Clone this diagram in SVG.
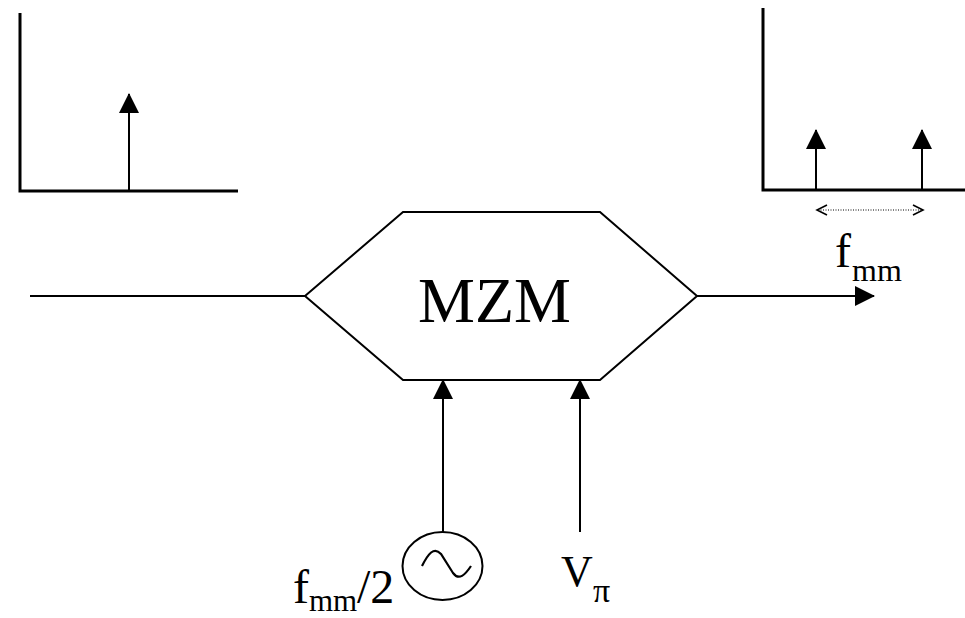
<svg xmlns="http://www.w3.org/2000/svg" width="965" height="618" viewBox="0 0 965 618">
  <style>
    .txt { font-family: "Liberation Serif", "Times New Roman", serif; fill: #000; }
    .axis { stroke: #000; stroke-width: 3; fill: none; }
    .ln { stroke: #000; stroke-width: 2; fill: none; }
    .thin { stroke: #000; stroke-width: 1.6; fill: none; }
  </style>
  <defs>
    <marker id="ah" markerUnits="userSpaceOnUse" viewBox="0 0 20 20" refX="19" refY="10" markerWidth="20" markerHeight="20" orient="auto">
      <path d="M0,0 L20,10 L0,20 Z" fill="#000"/>
    </marker>
  </defs>
  <rect width="965" height="618" fill="#fff"/>

  <g id="input-spectrum">
    <polyline class="axis" points="20,13 20,191 238,191"/>
    <line class="ln" x1="129" y1="191" x2="129" y2="94" marker-end="url(#ah)"/>
  </g>

  <g id="output-spectrum">
    <polyline class="axis" points="763,8 763,190 965,190"/>
    <line class="ln" x1="816" y1="190" x2="816" y2="130" marker-end="url(#ah)"/>
    <line class="ln" x1="922" y1="190" x2="922" y2="130" marker-end="url(#ah)"/>
    <line x1="818" y1="210" x2="922" y2="210" stroke="#000" stroke-width="1" stroke-dasharray="1 1.5"/>
    <polyline class="thin" points="827,205 817,210 827,215"/>
    <polyline class="thin" points="913,205 923,210 913,215"/>
    <text class="txt" x="835" y="267" font-size="48">f</text>
    <text class="txt" x="852" y="281" font-size="32">mm</text>
  </g>

  <g id="mzm">
    <polygon points="305,296 403,212 600,212 697,296 600,380 403,380" fill="#fff" stroke="#000" stroke-width="2"/>
    <text class="txt" x="418" y="322" font-size="64">MZM</text>
  </g>

  <g id="rf-source">
    <ellipse cx="442.5" cy="566" rx="40" ry="34" fill="#fff" stroke="#000" stroke-width="2"/>
    <path d="M422,566 C428,554 434,546 441,554 L453,573 C459,581 465,575 471,566" fill="none" stroke="#000" stroke-width="2.2"/>
    <text class="txt" x="293" y="603" font-size="48">f</text>
    <text class="txt" x="309" y="611" font-size="31">mm</text>
    <text class="txt" x="357" y="603" font-size="48">/2</text>
  </g>

  <g id="bias">
    <text class="txt" x="561" y="586" font-size="44">V</text>
    <text class="txt" x="593" y="602" font-size="34">π</text>
  </g>

  <g id="connectors">
    <line class="ln" x1="30" y1="296" x2="305" y2="296"/>
    <line class="ln" x1="697" y1="296" x2="874" y2="296" marker-end="url(#ah)"/>
    <line class="ln" x1="443" y1="532" x2="443" y2="380" marker-end="url(#ah)"/>
    <line class="ln" x1="580" y1="532" x2="580" y2="380" marker-end="url(#ah)"/>
  </g>
</svg>
